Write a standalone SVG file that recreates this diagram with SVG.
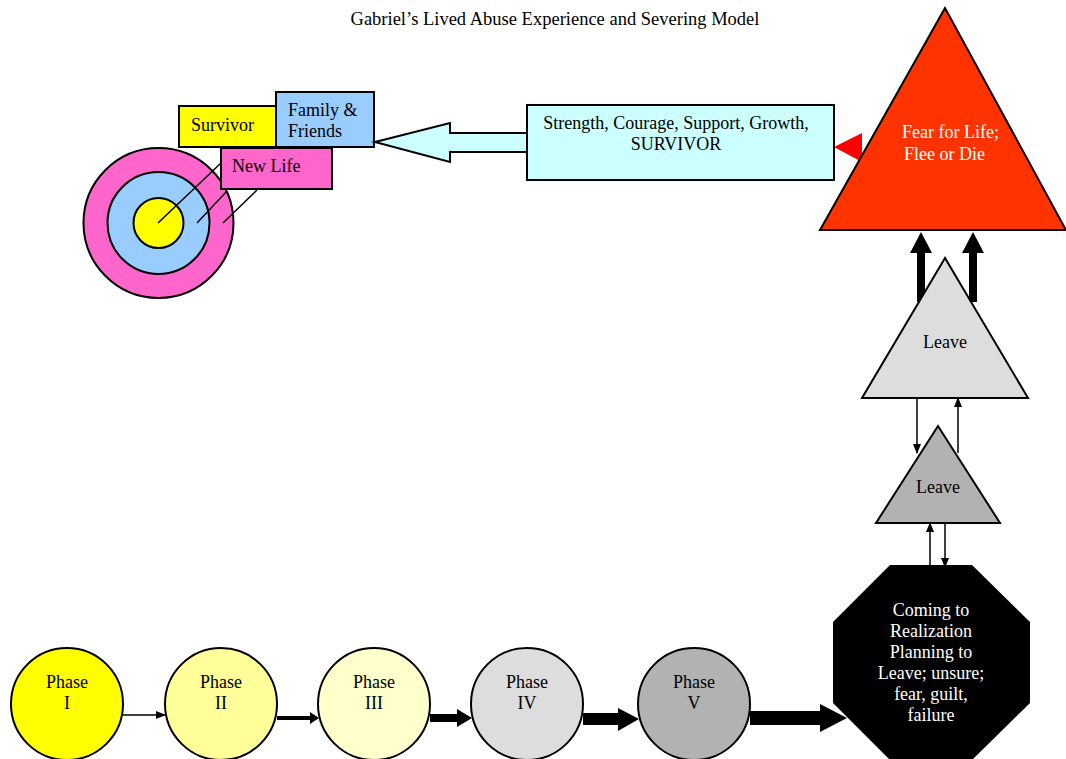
<svg xmlns="http://www.w3.org/2000/svg" width="1066" height="759" viewBox="0 0 1066 759" font-family="'Liberation Serif', 'DejaVu Serif', 'Times New Roman', serif" font-size="18">
<style>
text{font-family:'Liberation Serif','DejaVu Serif','Times New Roman',serif;font-size:18px;fill:#000}
.s{stroke:#000;stroke-width:2}
.w{fill:#fff}
.c{text-anchor:middle}
.ln{stroke:#000;stroke-width:1.5;fill:none}
.ar{fill:#000}
</style>
<defs>
<marker id="ah" markerWidth="10" markerHeight="8" refX="9" refY="4" orient="auto" markerUnits="userSpaceOnUse">
<path d="M0,0 L10,4 L0,8 Z" fill="#000"/>
</marker>
</defs>
<rect width="1066" height="759" fill="#fff"/>
<text x="555" y="25" class="c" style="font-size:18.5px">Gabriel’s Lived Abuse Experience and Severing Model</text>

<g id="target">
<circle cx="158.5" cy="223" r="75" fill="#ff66cc" class="s"/>
<circle cx="158.5" cy="223" r="51" fill="#99ccff" class="s"/>
<circle cx="158.5" cy="223" r="25" fill="#ffff00" class="s"/>
</g>
<g id="survivor">
<rect x="179" y="106" width="98" height="41" fill="#ffff00" class="s"/>
<text x="191" y="131">Survivor</text>
</g>
<g id="family">
<rect x="276" y="92" width="98" height="55" fill="#99ccff" class="s"/>
<text x="288" y="116">Family &amp;</text>
<text x="288" y="137">Friends</text>
</g>
<g id="newlife">
<rect x="221" y="148" width="111" height="41" fill="#ff66cc" class="s"/>
<text x="232" y="172">New Life</text>
</g>
<g id="callouts">
<line x1="158" y1="223" x2="221" y2="163" class="ln"/>
<line x1="197" y1="223" x2="227" y2="191" class="ln"/>
<line x1="223" y1="223" x2="257" y2="190" class="ln"/>
</g>

<g id="strength">
<polygon points="375,142 450,123 450,133 528,133 528,152 450,152 450,162" fill="#ccffff" class="s"/>
<rect x="527" y="105" width="307" height="75" fill="#ccffff" class="s"/>
<text x="676" y="129" class="c">Strength, Courage, Support, Growth,</text>
<text x="676" y="150" class="c">SURVIVOR</text>
</g>

<g id="fear">
<polygon points="834,147 862,133 862,162" fill="#ff0000"/>
<polygon points="945,8 820,230 1066,230" fill="#ff3300" class="s"/>
<text x="902" y="138" class="w">Fear for Life;</text>
<text x="904" y="160" class="w">Flee or Die</text>
</g>

<g id="connectors">
<polygon class="ar" points="917,302 917,253 910,253 921,232 932,253 925,253 925,302"/>
<polygon class="ar" points="969,302 969,253 962,253 973,232 984,253 977,253 977,302"/>
<line x1="917" y1="398" x2="917" y2="453" class="ln" marker-end="url(#ah)"/>
<line x1="958" y1="453" x2="958" y2="398" class="ln" marker-end="url(#ah)"/>
<line x1="930" y1="567" x2="930" y2="523" class="ln" marker-end="url(#ah)"/>
<line x1="945" y1="523" x2="945" y2="567" class="ln" marker-end="url(#ah)"/>
<line x1="123" y1="715" x2="165" y2="715" class="ln" marker-end="url(#ah)"/>
<polygon class="ar" points="277,716 310,716 310,712 319,718 310,724 310,720 277,720"/>
<polygon class="ar" points="430,714 457,714 457,709 472,718 457,727 457,722 430,722"/>
<polygon class="ar" points="583,713 618,713 618,708 639,719 618,731 618,725 583,725"/>
<polygon class="ar" points="750,711 820,711 820,704 847,718 820,732 820,725 750,725"/>
</g>

<g id="leave1">
<polygon points="945,258 862,398 1028,398" fill="#dddddd" class="s"/>
<text x="945" y="348" class="c">Leave</text>
</g>
<g id="leave2">
<polygon points="938,426 876,523 1000,523" fill="#b2b2b2" class="s"/>
<text x="938" y="493" class="c">Leave</text>
</g>

<g id="realization">
<polygon points="890,565 972,565 1030,622 1030,703 972,760 890,760 833,703 833,622" fill="#000"/>
<text x="931" y="616" class="c w">Coming to</text>
<text x="931" y="637" class="c w">Realization</text>
<text x="931" y="658" class="c w">Planning to</text>
<text x="931" y="679" class="c w">Leave; unsure;</text>
<text x="931" y="700" class="c w">fear, guilt,</text>
<text x="931" y="721" class="c w">failure</text>
</g>

<g id="phase1">
<circle cx="67" cy="704" r="56" fill="#ffff00" class="s"/>
<text x="67" y="688" class="c">Phase</text>
<text x="67" y="709" class="c">I</text>
</g>
<g id="phase2">
<circle cx="221" cy="704" r="56" fill="#ffff99" class="s"/>
<text x="221" y="688" class="c">Phase</text>
<text x="221" y="709" class="c">II</text>
</g>
<g id="phase3">
<circle cx="374" cy="704" r="56" fill="#ffffcc" class="s"/>
<text x="374" y="688" class="c">Phase</text>
<text x="374" y="709" class="c">III</text>
</g>
<g id="phase4">
<circle cx="527" cy="704" r="56" fill="#dddddd" class="s"/>
<text x="527" y="688" class="c">Phase</text>
<text x="527" y="709" class="c">IV</text>
</g>
<g id="phase5">
<circle cx="694" cy="704" r="56" fill="#b2b2b2" class="s"/>
<text x="694" y="688" class="c">Phase</text>
<text x="694" y="709" class="c">V</text>
</g>
</svg>
